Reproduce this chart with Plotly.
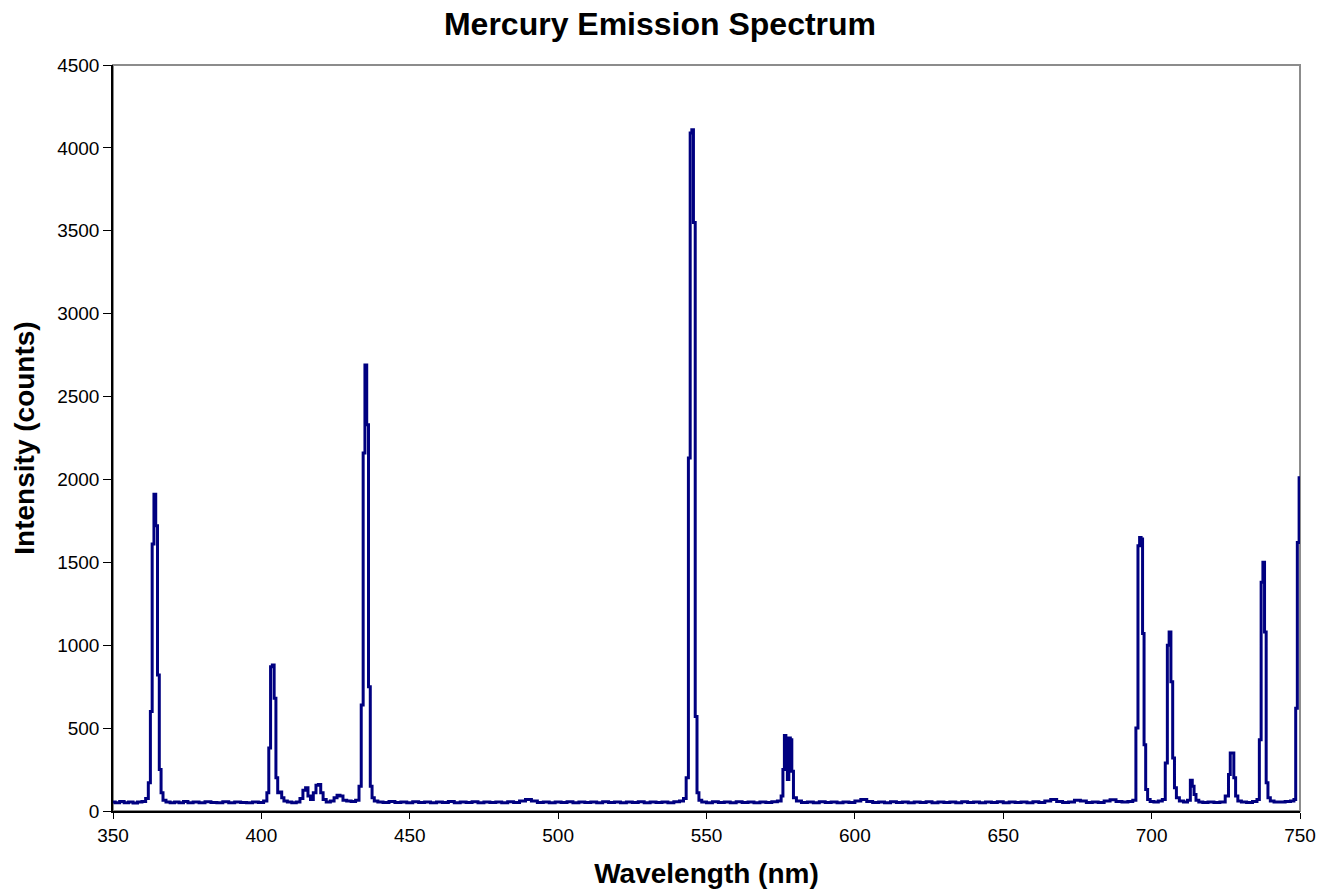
import plotly.graph_objects as go

# Wavelength (nm) and intensity (counts)
wavelength = [
    350, 351.5, 353, 354.5, 356, 357.5, 359, 360.5,
    361.5, 362.3, 362.9, 363.5, 364.1, 364.7, 365.3, 365.9, 366.5, 367.2,
    368.5, 370, 371.5, 373, 374.5, 376, 378, 380, 382, 384, 386, 388, 390, 392, 394, 396, 398, 400,
    401.5, 402.2, 402.8, 403.4, 404.0, 404.6, 405.2, 405.8, 406.5, 407.2, 408,
    409.5, 411, 412.5, 413.5, 414.5, 415.3, 416.1, 417, 418, 418.8, 419.6, 420.4, 421.2, 422.5,
    424, 425, 426, 427, 428, 429.5, 431, 432.5,
    433.3, 434.0, 434.6, 435.2, 435.8, 436.4, 437, 437.6, 438.5,
    440, 442, 444, 446, 448, 450, 452, 454, 456, 458, 460, 462, 464, 466, 468, 470, 472, 474,
    476, 478, 480, 482, 484, 486, 488, 490, 492, 494, 496, 498, 500, 502, 504, 506, 508, 510,
    512, 514, 516, 518, 520, 522, 524, 526, 528, 530, 532, 534, 536, 538, 540, 541.8,
    542.7, 543.6, 544.2, 544.8, 545.3, 545.9, 546.5, 547.1, 547.8,
    549, 551, 553, 555, 557, 559, 561, 563, 565, 567, 569, 571, 573, 574.8,
    575.5, 576.0, 576.5, 577.0, 577.5, 578.0, 578.5, 579.0, 579.6,
    581, 583, 585, 587, 589, 591, 593, 595, 597, 599, 601, 603, 605, 607, 609, 611, 613, 615,
    617, 619, 621, 623, 625, 627, 629, 631, 633, 635, 637, 639, 641, 643, 645, 647, 649, 651,
    653, 655, 657, 659, 661, 663, 665, 667, 669, 671, 673, 675, 677, 679, 681, 683, 685, 687,
    689, 691, 693,
    694.3, 695.1, 695.7, 696.2, 696.7, 697.2, 697.7, 698.3, 699.0,
    700, 701.5, 703, 704.2,
    705.0, 705.6, 706.2, 706.8, 707.4, 708.0, 708.7, 710, 711.5, 712.7,
    713.4, 714.0, 714.6, 715.3, 716.5, 718, 720, 722, 724,
    725.6, 726.2, 726.8, 727.4, 728.0, 728.6, 729.5, 731, 733, 735,
    736.0, 736.6, 737.2, 737.8, 738.3, 738.9, 739.5, 740.5, 742, 744, 746, 747.6,
    748.3, 748.8, 749.4, 750,
]
intensity = [
    55, 50, 57, 50, 55, 48, 55, 58,
    75, 170, 600, 1610, 1910, 1720, 820, 250, 110, 65,
    55, 50, 55, 50, 57, 50, 55, 50, 56, 52, 50, 56, 50, 55, 52, 50, 55, 52,
    60, 110, 380, 870, 880, 680, 200, 110, 115, 80, 60,
    55, 50, 55, 75, 125, 140, 90, 70, 110, 155, 160, 110, 70, 55,
    60, 80, 95, 90, 65, 60, 58, 65,
    150, 640, 2160, 2690, 2330, 750, 150, 80, 60,
    55, 52, 57, 52, 55, 50, 56, 52, 55, 50, 55, 52, 57, 50, 55, 52, 56, 50,
    55, 52, 55, 50, 56, 52, 60, 70, 60, 52, 55, 50, 55, 52, 56, 50, 55, 52,
    55, 50, 56, 52, 55, 50, 55, 52, 56, 50, 55, 52, 55, 50, 56, 60,
    75, 200, 2130, 4090, 4110, 3550, 570, 110, 65,
    55, 50, 56, 52, 55, 50, 56, 52, 55, 50, 55, 52, 56, 60,
    90, 250, 455, 440, 190, 440, 430, 240, 80,
    60, 52, 55, 50, 56, 52, 55, 50, 55, 52, 60, 70, 58, 52, 55, 50, 56, 52,
    55, 50, 55, 52, 56, 50, 55, 52, 55, 50, 56, 52, 55, 50, 55, 52, 56, 50,
    55, 52, 55, 50, 56, 52, 60, 70, 58, 52, 55, 65, 60, 52, 55, 52, 60, 68,
    58, 55, 58,
    65, 500, 1600, 1650, 1640, 1070, 400, 130, 70,
    58, 55, 60, 70,
    290, 1000, 1080, 780, 320, 140, 80, 60, 55, 65,
    185, 150, 100, 65, 55, 52, 55, 52, 55,
    90, 220, 350, 350, 200, 90, 60, 55, 52, 57,
    70, 430, 1380, 1500, 1080, 170, 80, 60, 55, 55, 58, 60,
    70, 620, 1620, 2010,
]

x_ticks = [350, 400, 450, 500, 550, 600, 650, 700, 750]
y_ticks = [0, 500, 1000, 1500, 2000, 2500, 3000, 3500, 4000, 4500]

fig = go.Figure()
fig.add_trace(go.Scatter(
    x=wavelength, y=intensity, mode="lines",
    line=dict(color="#000080", width=3, shape="hvh"),
    showlegend=False, hoverinfo="x+y",
))

font_family = "Liberation Sans, Arial, sans-serif"

fig.update_layout(
    width=1320, height=890,
    margin=dict(l=113, r=20, t=65, b=79),
    paper_bgcolor="white", plot_bgcolor="white",
    font=dict(family=font_family, color="black"),
    title=dict(
        text="<b>Mercury Emission Spectrum</b>",
        font=dict(family=font_family, size=32, color="black"),
        x=0.5, xanchor="center", xref="container",
        y=1 - 24 / 890, yanchor="middle", yref="container",
    ),
    shapes=[dict(
        type="rect", xref="paper", yref="paper", x0=0, x1=1, y0=0, y1=1,
        line=dict(color="#8c8c8c", width=2), layer="below",
    )],
)

fig.update_xaxes(
    range=[350, 750], tickvals=x_ticks, ticktext=[str(v) for v in x_ticks],
    showgrid=False, zeroline=False, automargin=False,
    showline=True, linecolor="black", linewidth=1.5,
    ticks="outside", ticklen=6, tickcolor="black", tickwidth=1,
    tickfont=dict(size=19, color="black"),
    title=dict(text="<b>Wavelength (nm)</b>", font=dict(size=28, color="black"), standoff=19),
)
fig.update_yaxes(
    range=[0, 4500], tickvals=y_ticks, ticktext=[str(v) for v in y_ticks],
    showgrid=False, zeroline=False, automargin=False,
    showline=True, linecolor="black", linewidth=1.5,
    ticks="outside", ticklen=8, tickcolor="black", tickwidth=1,
    tickfont=dict(size=19, color="black"),
    title=dict(text="<b>Intensity (counts)</b>", font=dict(size=28, color="black"), standoff=14),
)

fig.write_html("out.html")
